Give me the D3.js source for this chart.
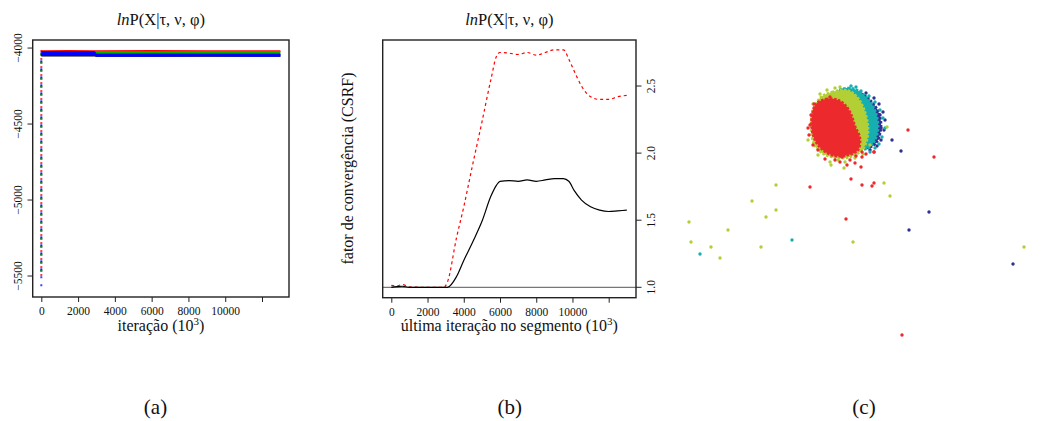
<!DOCTYPE html>
<html>
<head>
<meta charset="utf-8">
<script src="https://cdn.jsdelivr.net/npm/d3@7"></script>
<style>
    body { margin: 0; background: #fff; }
    svg text { font-family: "Liberation Serif", "DejaVu Serif", serif; fill: #111; }
</style>
</head>
<body>
<div id="fig"></div>
<script>
// ---------- (a) trace of lnP(X|tau,nu,phi), four chains as low/high bands ----------
const traceIter = [0, 40, 1500, 2900, 3000, 6000, 9000, 13000];
const blackLo = [-4055, -4056, -4055, -4056, -4058, -4057, -4058, -4057];
const blackHi = [-4038, -4039, -4038, -4039, -4040, -4039, -4040, -4039];
const redLo   = [-4028, -4029, -4028, -4029, -4028, -4029, -4028, -4028];
const redHi   = [-4013, -4014, -4013, -4014, -4014, -4013, -4014, -4014];
const greenLo = [-4035, -4035, -4034, -4035, -4035, -4036, -4035, -4035];
const greenHi = [-4021, -4021, -4022, -4021, -4020, -4021, -4020, -4020];
const blueLo  = [-4052, -4052, -4053, -4052, -4057, -4057, -4056, -4057];
const blueHi  = [-4019, -4019, -4020, -4019, -4035, -4035, -4034, -4035];
const burnStart = [-5470, -5540, -5500, -5580]; // value at iteration 0 (black, red, green, blue)
const traceTicksY = [-4000, -4500, -5000, -5500];
const iterTicks = [0, 2000, 4000, 6000, 8000, 10000, 12000];

// ---------- (b) CSRF ----------
const csrfIter = [0, 300, 600, 1000, 2000, 2900, 3100, 3600, 4000, 4500, 5000, 5500, 5800, 6000, 6500,
    7000, 7500, 8000, 8500, 9000, 9500, 9800, 10100, 10500, 11000, 11500, 12000, 12500, 13000];
const csrfBlack = [1.0, 1.005, 1.008, 1.0, 1.0, 1.0, 1.0, 1.08, 1.2, 1.34, 1.49, 1.68, 1.76, 1.79, 1.795,
    1.79, 1.80, 1.79, 1.80, 1.81, 1.81, 1.79, 1.72, 1.65, 1.60, 1.575, 1.565, 1.57, 1.575];
const csrfRed = [1.015, 1.01, 1.02, 1.003, 1.0, 1.0, 1.04, 1.37, 1.60, 1.92, 2.23, 2.55, 2.72, 2.75, 2.745,
    2.735, 2.75, 2.73, 2.75, 2.77, 2.77, 2.70, 2.61, 2.50, 2.42, 2.40, 2.40, 2.42, 2.43];
const csrfTicks = [1.0, 1.5, 2.0, 2.5];

// ---------- (c) scatter, cluster regions + single points ----------
const blueRegion = [[175,248],[184,245],[192,238],[198,229],[201,218],[200,206],[196,197],[188,192],[182,194],[182,215],[178,235]];
const tealRegion = [[158,249],[168,252],[177,250],[186,243],[193,234],[197,223],[198,210],[194,198],[186,191],[180,192],[178,210],[173,230],[165,243]];
const greenRegion = [[141,243],[152,248],[165,250],[173,247],[180,239],[185,228],[188,214],[187,200],[182,190],[170,183],[156,182],[142,187],[134,196],[131,212],[133,230]];
const redRegion = [[136,236],[146,241],[158,240],[166,234],[171,226],[175,214],[180,202],[178,190],[168,185],[155,184],[144,189],[136,198],[132,210],[132,225]];

const bluePts = [[212,200],[221,189],[249,128],[229,110],[333,76],[198,202],[192,198],[200,225],[175,247],[196,206],[201,212],
    [186,247],[194,242],[199,236],[203,228],[205,220],[204,210],[201,200],[197,194],[190,190]];
const tealPts = [[202,203],[205,212],[112,100],[20,86],[162,250],[168,250],[185,192],[143,240],[199,196],
    [171,254],[176,253],[181,249],[189,244],[195,238],[200,230],[203,222],[195,192],[190,188]];
const greenPts = [[207,213],[164,172],[151,175],[204,157],[210,144],[96,155],[72,139],[96,130],[86,123],[9,118],
    [48,110],[173,98],[11,98],[31,93],[81,93],[40,82],[344,93],[137,200],[144,188],[145,243],[158,180],
    [140,246],[147,250],[155,252],[160,253],[133,236],[138,185],[150,178],[165,178],[175,182],[183,186],[190,195],[128,200]];
const redPts = [[228,210],[254,183],[194,188],[182,188],[182,183],[181,173],[175,177],[167,175],[171,161],[130,153],
    [182,155],[192,154],[194,157],[166,121],[222,5],[134,236],[133,208],[155,180],[162,183],[194,188],[186,186],
    [131,225],[130,215],[129,205],[133,195],[138,190],[140,232],[135,230],[150,243],[145,181],[160,178],[170,180],[176,184],[178,195],[128,212]];

const captions = ["(a)", "(b)", "(c)"];

const width = 1042;
const height = 421;

const svg = d3.select("#fig")
    .append("svg")
    .attr("width", width)
    .attr("height", height)
    .attr("viewBox", `0 0 ${width} ${height}`);

svg.append("rect").attr("width", width).attr("height", height).attr("fill", "#fff");

function title(cx) {
    const t = svg.append("text")
        .attr("x", cx).attr("y", 25)
        .attr("text-anchor", "middle")
        .style("font-size", "16.5px");
    t.append("tspan").attr("font-style", "italic").text("ln");
    t.append("tspan").text("P(X|τ, ν, φ)");
}

function xLabel(cx, label) {
    const t = svg.append("text")
        .attr("x", cx).attr("y", 331)
        .attr("text-anchor", "middle")
        .style("font-size", "16px");
    t.append("tspan").text(label + " (10");
    t.append("tspan").attr("dy", -6).style("font-size", "11px").text("3");
    t.append("tspan").attr("dy", 6).text(")");
}

function boxAndXAxis(x, y) {
    const g = svg.append("g");
    const [x0, x1] = x.range();
    const [y0, y1] = y.range();
    g.append("g")
        .attr("transform", `translate(0,${y0})`)
        .call(d3.axisBottom(x).tickValues(iterTicks).tickSize(5).tickPadding(4.8)
            .tickFormat(d => d === 12000 ? "" : d3.format("d")(d)))
        .call(a => a.select(".domain").remove())
        .call(a => a.selectAll("line").attr("stroke", "#222"))
        .call(a => a.selectAll("text").style("font-size", "11.5px")
            .style("font-family", "'Liberation Serif', serif").attr("fill", "#111"));
    g.append("rect")
        .attr("x", x0).attr("y", y1)
        .attr("width", x1 - x0).attr("height", y0 - y1)
        .attr("fill", "none").attr("stroke", "#222").attr("stroke-width", 1.4);
    return g;
}

// ---------------- panel (a) ----------------
const xa = d3.scaleLinear().domain([-468, 13468]).range([32.7, 289]);
const ya = d3.scaleLinear().domain([-5638, -3947]).range([297, 40]);

const chains = [
    { lo: blackLo, hi: blackHi, color: "#000000" },
    { lo: redLo, hi: redHi, color: "#ff0000" },
    { lo: greenLo, hi: greenHi, color: "#00b400" },
    { lo: blueLo, hi: blueHi, color: "#0000ff" }
];

const band = d3.area()
    .x(d => xa(d.it))
    .y0(d => ya(d.lo))
    .y1(d => ya(d.hi));

chains.forEach((c, k) => {
    svg.append("line")
        .attr("x1", xa(0)).attr("x2", xa(0))
        .attr("y1", ya(burnStart[k])).attr("y2", ya(c.hi[0]))
        .attr("stroke", c.color)
        .attr("stroke-width", 2)
        .attr("stroke-opacity", 0.75)
        .attr("stroke-dasharray", "2 6")
        .attr("stroke-dashoffset", k * 2);
});

chains.forEach(c => {
    const rows = traceIter.map((it, i) => ({ it, lo: c.lo[i], hi: c.hi[i] }));
    svg.append("path")
        .datum(rows)
        .attr("d", band)
        .attr("fill", c.color);
});

boxAndXAxis(xa, ya);

const yAxA = svg.append("g");
traceTicksY.forEach(v => {
    yAxA.append("line")
        .attr("x1", 27.5).attr("x2", 32.7)
        .attr("y1", ya(v)).attr("y2", ya(v))
        .attr("stroke", "#222");
    yAxA.append("text")
        .attr("transform", `translate(21.7,${ya(v)}) rotate(-90)`)
        .attr("text-anchor", "middle")
        .style("font-size", "11.5px")
        .text(d3.format("d")(v).replace("-", "−"));
});

title(160.9);
xLabel(160.9, "iteração");

// ---------------- panel (b) ----------------
const xb = d3.scaleLinear().domain([-475, 13507]).range([382.7, 636]);
const yb = d3.scaleLinear().domain([0.9225, 2.843]).range([297.7, 40]);

svg.append("line")
    .attr("x1", xb.range()[0]).attr("x2", xb.range()[1])
    .attr("y1", yb(1)).attr("y2", yb(1))
    .attr("stroke", "#555").attr("stroke-width", 1);

const csrfLine = d3.line()
    .x((d, i) => xb(csrfIter[i]))
    .y(d => yb(d))
    .curve(d3.curveMonotoneX);

svg.append("path")
    .datum(csrfRed)
    .attr("d", csrfLine)
    .attr("fill", "none")
    .attr("stroke", "#ff0000")
    .attr("stroke-width", 1.2)
    .attr("stroke-dasharray", "3 3");

svg.append("path")
    .datum(csrfBlack)
    .attr("d", csrfLine)
    .attr("fill", "none")
    .attr("stroke", "#000")
    .attr("stroke-width", 1.2);

boxAndXAxis(xb, yb);

const yAxB = svg.append("g");
csrfTicks.forEach(v => {
    yAxB.append("line")
        .attr("x1", 636).attr("x2", 641.5)
        .attr("y1", yb(v)).attr("y2", yb(v))
        .attr("stroke", "#222");
    yAxB.append("text")
        .attr("transform", `translate(655,${yb(v)}) rotate(-90)`)
        .attr("text-anchor", "middle")
        .style("font-size", "11.5px")
        .text(d3.format(".1f")(v));
});

svg.append("text")
    .attr("transform", `translate(353,168.5) rotate(-90)`)
    .attr("text-anchor", "middle")
    .style("font-size", "16px")
    .text("fator de convergência (CSRF)");

title(509.3);
xLabel(509.3, "última iteração no segmento");

// ---------------- panel (c) ----------------
const xc = d3.scaleLinear().domain([0, 350]).range([680, 1030]);
const yc = d3.scaleLinear().domain([0, 260]).range([340, 80]);

const regionPath = d3.line()
    .x(d => xc(d[0]))
    .y(d => yc(d[1]))
    .curve(d3.curveCatmullRomClosed);

const layers = [
    { region: blueRegion, pts: bluePts, color: "#2e3192" },
    { region: tealRegion, pts: tealPts, color: "#17aeb0" },
    { region: greenRegion, pts: greenPts, color: "#b3cf36" },
    { region: redRegion, pts: redPts, color: "#ec2a2e" }
];

layers.forEach(l => {
    svg.append("g")
        .selectAll("circle")
        .data(l.pts.filter(p => p[1] > 170))
        .join("circle")
        .attr("cx", d => xc(d[0]))
        .attr("cy", d => yc(d[1]))
        .attr("r", 1.7)
        .attr("fill", l.color);
    svg.append("path")
        .datum(l.region)
        .attr("d", regionPath)
        .attr("fill", l.color)
        .attr("stroke", l.color)
        .attr("stroke-width", 2.5)
        .attr("stroke-dasharray", "2.5 1.5");
});

layers.forEach(l => {
    svg.append("g")
        .selectAll("circle")
        .data(l.pts.filter(p => p[1] <= 170))
        .join("circle")
        .attr("cx", d => xc(d[0]))
        .attr("cy", d => yc(d[1]))
        .attr("r", 1.7)
        .attr("fill", l.color);
});

// ---------------- captions ----------------
const capX = d3.scalePoint().domain(captions).range([155.5, 864]);
svg.selectAll(".cap")
    .data(captions)
    .join("text")
    .attr("class", "cap")
    .attr("x", d => capX(d))
    .attr("y", 414)
    .attr("text-anchor", "middle")
    .style("font-size", "21px")
    .text(d => d);
</script>
</body>
</html>
